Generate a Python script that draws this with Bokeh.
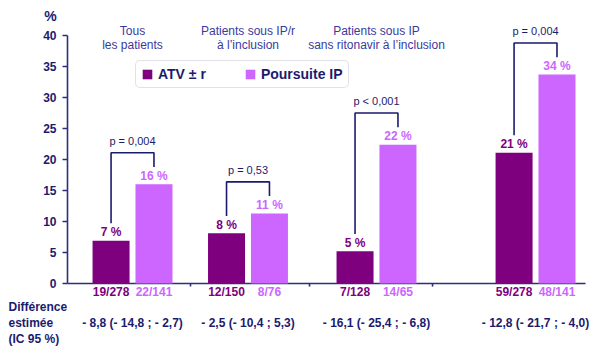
from bokeh.plotting import figure
from bokeh.models import Range1d, LinearAxis, FixedTicker, Legend, LegendItem, ColumnDataSource
from bokeh.core.properties import value
from bokeh.embed import file_html
from bokeh.resources import INLINE

# ---------------- data ----------------
groups = ["Tous\nles patients",
          "Patients sous IP/r\nà l\u2019inclusion",
          "Patients sous IP\nsans ritonavir à l\u2019inclusion",
          ""]
series_names = ["ATV \u00b1 r", "Poursuite IP"]
atv_values = [6.9, 8.1, 5.2, 21.1]
ip_values = [16.0, 11.3, 22.4, 33.7]
atv_pct_labels = ["7 %", "8 %", "5 %", "21 %"]
ip_pct_labels = ["16 %", "11 %", "22 %", "34 %"]
atv_counts = ["19/278", "12/150", "7/128", "59/278"]
ip_counts = ["22/141", "8/76", "14/65", "48/141"]
p_values = ["p = 0,004", "p = 0,53", "p < 0,001", "p = 0,004"]
differences = ["- 8,8 (- 14,8 ; - 2,7)", "- 2,5 (- 10,4 ; 5,3)",
               "- 16,1 (- 25,4 ; - 6,8)", "- 12,8 (- 21,7 ; - 4,0)"]
diff_title = ["Différence", "estimée", "(IC 95 %)"]
y_ticks = [0, 5, 10, 15, 20, 25, 30, 35, 40]
y_unit = "%"

# ---------------- layout (screen-derived) ----------------
group_centers = [1.757, 4.878, 8.351, 12.649]
group_bounds = [3.324, 6.541, 9.865]
bar_offset = 0.58
bar_width = 1.0
x_axis_end = 14.0

ATV_COLOR = "#7e007e"
IP_COLOR = "#cc66ff"
NAVY = "#1b1b6e"
AXIS = "#2e2e7e"
TITLE_BLUE = "#3a3a9c"
FONT = "Liberation Sans"

p = figure(width=600, height=352,
           x_range=Range1d(-1.811, 14.405), y_range=Range1d(-11.13, 45.65),
           output_backend="svg", toolbar_location=None,
           x_axis_location=None, y_axis_location=None,
           min_border_left=0, min_border_right=0,
           min_border_top=0, min_border_bottom=0)
p.outline_line_color = None
p.background_fill_color = "white"
p.border_fill_color = "white"
for g in p.grid:
    g.visible = False

yaxis = LinearAxis(bounds=(0, 40), ticker=FixedTicker(ticks=y_ticks), fixed_location=0)
yaxis.axis_line_color = AXIS
yaxis.axis_line_width = 1.6
yaxis.major_tick_line_color = AXIS
yaxis.major_tick_line_width = 1.6
yaxis.major_tick_out = 5
yaxis.major_tick_in = 0
yaxis.minor_tick_line_color = None
yaxis.major_label_standoff = 6
yaxis.major_label_text_font = FONT
yaxis.major_label_text_font_style = "bold"
yaxis.major_label_text_font_size = "12px"
yaxis.major_label_text_color = NAVY
p.add_layout(yaxis, "left")

# x axis line and group separators
p.segment(x0=[0], y0=[0], x1=[x_axis_end], y1=[0], line_color=AXIS, line_width=1.6)
p.segment(x0=group_bounds, y0=[0] * len(group_bounds), x1=group_bounds,
          y1=[-0.5] * len(group_bounds), line_color=AXIS, line_width=1.6)

x_atv = [c - bar_offset for c in group_centers]
x_ip = [c + bar_offset for c in group_centers]

src_atv = ColumnDataSource(dict(x=x_atv, top=atv_values, lab=atv_pct_labels,
                                cnt=atv_counts, ly=[v + 1.35 for v in atv_values]))
src_ip = ColumnDataSource(dict(x=x_ip, top=ip_values, lab=ip_pct_labels,
                               cnt=ip_counts, ly=[v + 1.35 for v in ip_values]))

r_atv = p.vbar(x="x", top="top", width=bar_width, source=src_atv,
               fill_color=ATV_COLOR, line_color=None)
r_ip = p.vbar(x="x", top="top", width=bar_width, source=src_ip,
              fill_color=IP_COLOR, line_color=None)

common = dict(text_font=value(FONT), text_align="center", text_baseline="middle")
for src, col in ((src_atv, ATV_COLOR), (src_ip, IP_COLOR)):
    p.text(x="x", y="ly", text="lab", source=src, text_color=col,
           text_font_size="12px", text_font_style="bold", **common)
    p.text(x="x", y=-1.4, text="cnt", source=src, text_color=col,
           text_font_size="12px", text_font_style="bold", **common)

# brackets with p-values
xs, ys, ptop = [], [], []
for xa, xi, a, b in zip(x_atv, x_ip, atv_values, ip_values):
    top = max(a, b) + 5.1
    xs.append([xa, xa, xi, xi])
    ys.append([a + 2.8, top, top, b + 2.8])
    ptop.append(top + 1.9)
p.multi_line(xs=xs, ys=ys, line_color=NAVY, line_width=1.6)
p.text(x=group_centers, y=ptop, text=p_values, text_color=NAVY,
       text_font_size="11px", **common)

# group titles
for c, g in zip(group_centers, groups):
    lines = g.split("\n") if g else []
    for i, ln in enumerate(lines):
        p.text(x=[c], y=[40.7 - 2.25 * i], text=[ln], text_color=TITLE_BLUE,
               text_font_size="12px", **common)

# differences
p.text(x=group_centers, y=-6.45, text=differences, text_color=NAVY,
       text_font_size="12px", text_font_style="bold", **common)

p.text(x=[-1.595] * len(diff_title), y=[-3.87 - 2.58 * i for i in range(len(diff_title))],
       text=diff_title, text_color=NAVY, text_font=value(FONT),
       text_font_size="12px", text_font_style="bold",
       text_align="left", text_baseline="middle")
p.text(x=[-0.46], y=[43.2], text=[y_unit], text_color=NAVY, text_font=value(FONT),
       text_font_size="14px", text_font_style="bold",
       text_align="center", text_baseline="middle")

legend = Legend(items=[LegendItem(label=series_names[0], renderers=[r_atv]),
                       LegendItem(label=series_names[1], renderers=[r_ip])],
                location=(135, 264), orientation="horizontal",
                glyph_width=12, glyph_height=12, label_standoff=5,
                label_height=12, spacing=38, padding=5, margin=0,
                label_text_font=FONT, label_text_font_size="14px",
                label_text_font_style="bold", label_text_color=NAVY,
                border_line_color="#c4c4d0", border_line_width=1.5,
                background_fill_color="white")
if "border_radius" in Legend.properties():
    legend.border_radius = 5
p.add_layout(legend)

open("out.html", "w").write(file_html(p, INLINE))
